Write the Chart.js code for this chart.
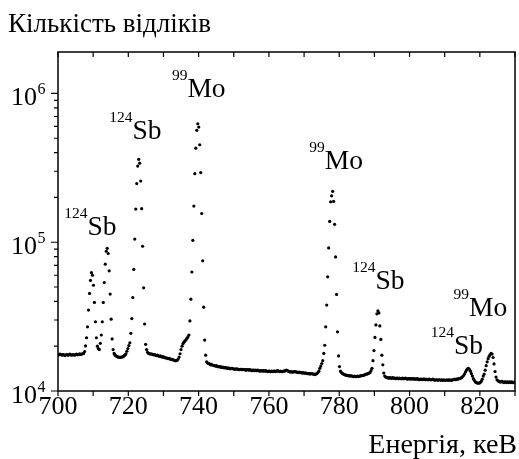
<!DOCTYPE html>
<html>
<head>
<meta charset="utf-8">
<title>Gamma spectrum</title>
<script src="https://cdn.jsdelivr.net/npm/chart.js@4.4.0/dist/chart.umd.min.js"></script>
<style>
  body { margin: 0; background: #fff; }
  canvas { display: block; }
</style>
</head>
<body>
<canvas id="spectrum" width="519" height="459"></canvas>
<script>
// channel calibration: E = E0 + STEP * channel (keV)
const E0 = 700;
const STEP = 0.28;

// counts per channel, thousands
const countsK = [
  17.6, 17.5, 17.7, 17.6, 17.4, 17.6, 17.5, 17.3, 17.5, 17.6,
  17.4, 17.5, 17.7, 17.5, 17.4, 17.6, 17.5, 17.4, 17.6, 17.7,
  17.5, 17.6, 17.8, 17.6, 17.7, 17.8, 17.9, 18.4, 20.1, 22.8,
  27.0, 35.0, 45.3, 55.4, 62.4, 60.0, 51.4, 39.4, 29.2, 22.8,
  20.0, 19.3, 19.0, 20.9, 23.8, 29.2, 39.4, 53.6, 71.2, 87,
  91, 84, 64.2, 44.8, 30.4, 22.4, 19.0, 17.9, 17.4, 17.2,
  17.0, 16.9, 16.9, 16.8, 16.9, 16.9, 17.0, 17.2, 17.4, 17.8,
  18.5, 19.3, 20.2, 21.1, 24.4, 30.7, 42.5, 65.6, 105, 167,
  248, 325, 361, 340, 258, 168, 94, 49.4, 28.2, 20.6,
  19.0, 18.2, 17.9, 17.8, 17.7, 17.8, 17.6, 17.5, 17.6, 17.4,
  17.3, 17.4, 17.2, 17.1, 17.2, 17.0, 16.9, 17.0, 16.8, 16.7,
  16.7, 16.6, 16.5, 16.6, 16.4, 16.3, 16.3, 16.2, 16.1, 16.0,
  16.0, 16.1, 16.4, 16.9, 17.8, 19.0, 20.0, 20.8, 21.3, 21.7,
  22.1, 22.6, 23.1, 23.8, 29.6, 41.4, 63.1, 103, 175, 289,
  429, 565, 626, 594, 452, 294, 156, 75, 36.6, 22.0,
  17.4, 15.7, 15.4, 15.3, 15.2, 15.0, 15.1, 14.9, 14.9, 14.8,
  14.7, 14.8, 14.6, 14.6, 14.5, 14.6, 14.4, 14.5, 14.4, 14.3,
  14.4, 14.3, 14.2, 14.3, 14.2, 14.1, 14.2, 14.2, 14.1, 14.0,
  14.1, 14.0, 14.1, 14.0, 13.9, 14.0, 14.0, 13.9, 14.0, 13.9,
  13.9, 13.8, 13.9, 13.9, 13.8, 13.9, 13.8, 13.7, 13.8, 13.8,
  13.7, 13.8, 13.7, 13.8, 13.7, 13.6, 13.7, 13.7, 13.6, 13.7,
  13.6, 13.7, 13.6, 13.5, 13.6, 13.6, 13.5, 13.6, 13.5, 13.6,
  13.6, 13.5, 13.6, 13.7, 13.6, 13.5, 13.6, 13.5, 13.5, 13.6,
  13.6, 13.7, 13.8, 13.7, 13.6, 13.5, 13.4, 13.5, 13.4, 13.4,
  13.5, 13.5, 13.4, 13.4, 13.3, 13.4, 13.3, 13.3, 13.2, 13.3,
  13.2, 13.2, 13.2, 13.1, 13.1, 13.1, 13.0, 13.1, 13.1, 13.0,
  13.0, 12.9, 13.0, 13.1, 13.3, 13.6, 14.2, 14.7, 15.3, 16.0,
  17.9, 20.3, 27.0, 37.8, 58.5, 91.6, 138, 187, 205, 220,
  188, 132, 79.7, 44.6, 25.0, 17.2, 14.6, 13.6, 13.3, 13.1,
  13.0, 12.9, 12.8, 12.8, 12.7, 12.7, 12.6, 12.7, 12.6, 12.6,
  12.5, 12.6, 12.5, 12.5, 12.6, 12.5, 12.6, 12.6, 12.7, 12.7,
  12.7, 12.8, 12.9, 13.0, 13.0, 13.1, 13.2, 13.3, 13.7, 14.2,
  16.0, 18.7, 22.9, 27.8, 33.0, 34.6, 33.5, 27.4, 22.2, 17.4,
  15.0, 13.2, 12.6, 12.4, 12.3, 12.3, 12.2, 12.3, 12.2, 12.2,
  12.3, 12.2, 12.2, 12.1, 12.2, 12.2, 12.1, 12.2, 12.1, 12.1,
  12.2, 12.1, 12.1, 12.2, 12.1, 12.0, 12.1, 12.1, 12.0, 12.1,
  12.1, 12.0, 12.1, 12.0, 12.0, 12.1, 12.0, 11.9, 12.0, 12.0,
  11.9, 12.0, 12.0, 11.9, 12.0, 11.9, 11.9, 12.0, 11.9, 11.9,
  11.9, 12.0, 11.9, 11.8, 11.9, 11.9, 11.8, 11.9, 11.9, 11.8,
  11.9, 11.8, 11.9, 11.8, 11.8, 11.9, 11.8, 11.9, 11.8, 11.9,
  11.8, 11.9, 11.9, 12.0, 11.9, 12.0, 12.0, 12.1, 12.1, 12.2,
  12.3, 12.5, 12.7, 13.0, 13.4, 13.8, 14.1, 14.2, 14.0, 13.6,
  13.1, 12.6, 12.1, 11.8, 11.5, 11.4, 11.3, 11.3, 11.3, 11.4,
  11.6, 12.0, 12.6, 13.0, 13.8, 14.8, 15.7, 16.5, 17.1, 17.6,
  17.9, 17.7, 16.8, 15.2, 13.5, 12.4, 11.9, 11.7, 11.6, 11.5,
  11.5, 11.6, 11.5, 11.4, 11.5, 11.5, 11.4, 11.5, 11.4, 11.5,
  11.4, 11.5, 11.4, 11.4, 11.5
];

// axis ticks
const xTicks = [700, 710, 720, 730, 740, 750, 760, 770, 780, 790, 800, 810, 820, 830];
const xTickLabels = [700, 720, 740, 760, 780, 800, 820];
const yPowers = [4, 5, 6];

// peak labels: mass number, element, anchor (energy keV, counts) of text baseline
const peakMass = ['124', '124', '99', '99', '124', '124', '99'];
const peakElem = ['Sb', 'Sb', 'Mo', 'Mo', 'Sb', 'Sb', 'Mo'];
const peakAtE = [701.8, 714.6, 732.4, 771.5, 783.7, 806.0, 812.5];
const peakAtN = [111400, 491000, 940000, 312000, 48200, 17600, 31900];

const points = countsK.map((c, i) => ({ x: E0 + STEP * i, y: c * 1000 }));

const FONT = '"Liberation Serif", "DejaVu Serif", serif';

const framePlugin = {
    id: 'frame',
    afterDraw(chart) {
        const { ctx, chartArea: a, scales } = chart;
        const x = scales.x, y = scales.y;
        ctx.save();
        ctx.strokeStyle = '#000';
        ctx.fillStyle = '#000';
        ctx.lineWidth = 1.5;
        ctx.strokeRect(a.left, a.top, a.right - a.left, a.bottom - a.top);

        // tick marks
        ctx.lineWidth = 1.2;
        ctx.beginPath();
        xTicks.forEach(v => {
            const px = x.getPixelForValue(v);
            ctx.moveTo(px, a.bottom); ctx.lineTo(px, a.bottom + 5);
            ctx.moveTo(px, a.top); ctx.lineTo(px, a.top + 5);
        });
        yPowers.forEach(p => {
            for (let m = 1; m <= 9; m++) {
                const v = m * Math.pow(10, p);
                if (v > y.max) break;
                const py = y.getPixelForValue(v);
                const len = m === 1 ? 7 : 4;
                ctx.moveTo(a.left - len, py); ctx.lineTo(a.left, py);
            }
        });
        ctx.stroke();

        // x labels
        ctx.font = '26px ' + FONT;
        ctx.textAlign = 'center';
        ctx.textBaseline = 'alphabetic';
        xTickLabels.forEach(v => {
            ctx.fillText(String(v), x.getPixelForValue(v), a.bottom + 23);
        });

        // y labels 10^n
        yPowers.forEach(p => {
            const py = y.getPixelForValue(Math.pow(10, p));
            ctx.font = '26px ' + FONT;
            ctx.textAlign = 'right';
            ctx.fillText('10', a.left - 21, py + 12);
            ctx.font = '16px ' + FONT;
            ctx.textAlign = 'left';
            ctx.fillText(String(p), a.left - 20.5, py + 1);
        });

        // isotope labels
        ctx.textAlign = 'left';
        peakMass.forEach((mass, k) => {
            const px = x.getPixelForValue(peakAtE[k]);
            const py = y.getPixelForValue(peakAtN[k]);
            ctx.font = '15.5px ' + FONT;
            ctx.fillText(mass, px, py - 17);
            const w = ctx.measureText(mass).width;
            ctx.font = '27.5px ' + FONT;
            ctx.fillText(peakElem[k], px + w, py);
        });

        // axis titles
        ctx.font = '27px ' + FONT;
        ctx.textAlign = 'left';
        ctx.fillText('Кількість відліків', 8, 32);
        ctx.font = '28px ' + FONT;
        ctx.textAlign = 'right';
        ctx.fillText('Енергія, кеВ', 517, 453);
        ctx.restore();
    }
};

new Chart(document.getElementById('spectrum').getContext('2d'), {
    type: 'scatter',
    data: {
        datasets: [{
            data: points,
            pointRadius: 1.6,
            pointBorderWidth: 0,
            pointBackgroundColor: '#000',
            showLine: false
        }]
    },
    options: {
        responsive: false,
        animation: false,
        devicePixelRatio: 1,
        layout: { padding: { left: 58, right: 1, top: 52, bottom: 68 } },
        scales: {
            x: { type: 'linear', min: 700, max: 830, display: false },
            y: { type: 'logarithmic', min: 10000, max: 1900000, display: false }
        },
        plugins: {
            legend: { display: false },
            tooltip: { enabled: false }
        }
    },
    plugins: [framePlugin]
});
</script>
</body>
</html>
